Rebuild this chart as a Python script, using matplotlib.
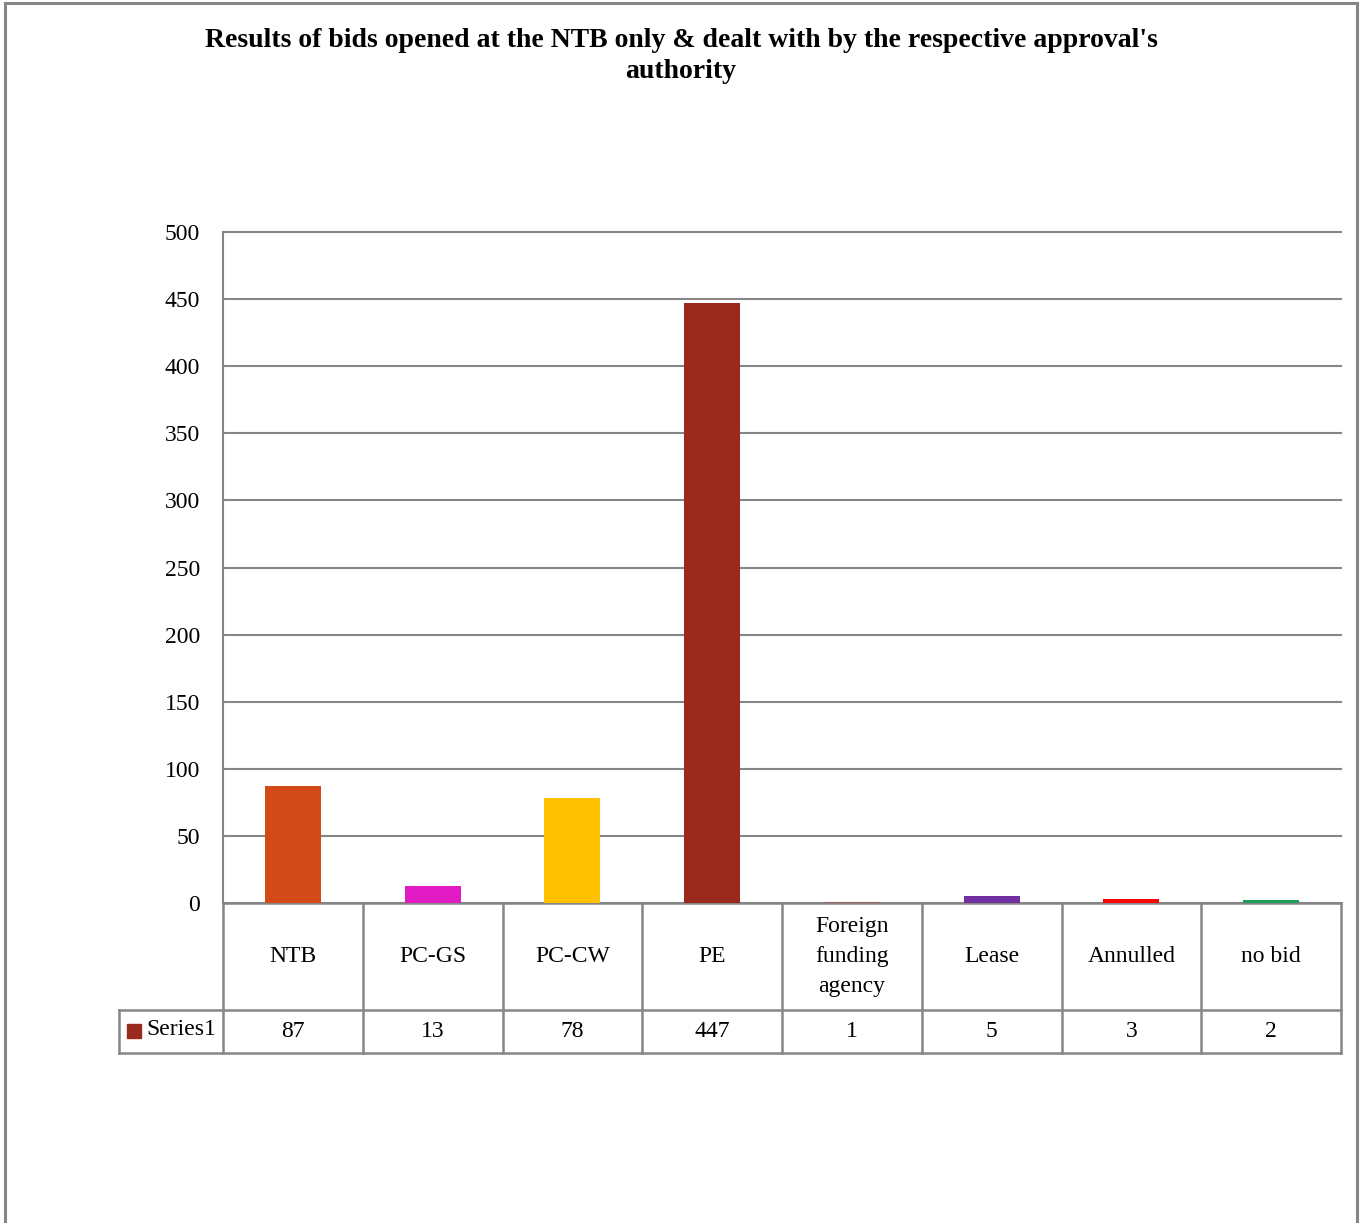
import matplotlib
matplotlib.use("Agg")
import matplotlib.pyplot as plt
from matplotlib.transforms import blended_transform_factory
from matplotlib.patches import Rectangle
from matplotlib.lines import Line2D

categories = ["NTB", "PC-GS", "PC-CW", "PE", "Foreign\nfunding\nagency", "Lease", "Annulled", "no bid"]
values = [87, 13, 78, 447, 1, 5, 3, 2]
colors = ["#D24A18", "#E11BC3", "#FFC000", "#9A2A1E", "#A0605A", "#7030A0", "#FF0000", "#1F9C5A"]
series_name = "Series1"
yticks = [0, 50, 100, 150, 200, 250, 300, 350, 400, 450, 500]
title = "Results of bids opened at the NTB only & dealt with by the respective approval's\nauthority"

plt.rcParams['font.family'] = ['Liberation Serif', 'DejaVu Serif']
W, H = 1364, 1223
fig = plt.figure(figsize=(W/100, H/100), dpi=100)

grid_c = "#868686"
# outer border
fig.add_artist(Line2D([5/W, 5/W], [0, 1-3/H], color=grid_c, lw=2.2, transform=fig.transFigure))
fig.add_artist(Line2D([5/W, 1357/W], [1-3/H, 1-3/H], color=grid_c, lw=2.2, transform=fig.transFigure))
fig.add_artist(Line2D([1357/W, 1357/W], [0, 1-3/H], color=grid_c, lw=2.2, transform=fig.transFigure))

x0, x1 = 223, 1341
ytop, ybot = 232, 903
ax = fig.add_axes([x0/W, 1-ybot/H, (x1-x0)/W, (ybot-ytop)/H])
n = len(categories)
ax.bar(range(n), values, width=0.4, color=colors, zorder=3)
ax.set_xlim(-0.5, n-0.5)
ax.set_ylim(0, 500)
ax.set_yticks(yticks)
ax.set_yticklabels([str(t) for t in yticks], fontsize=17)
ax.tick_params(axis='y', length=0, pad=16.5)
ax.tick_params(axis='x', length=0, labelbottom=False)
ax.grid(axis='y', color=grid_c, lw=1.5, zorder=0)
for gl in ax.get_ygridlines():
    gl.set_clip_on(False)
for s in ['top', 'right', 'bottom']:
    ax.spines[s].set_visible(False)
ax.spines['left'].set_color(grid_c)
ax.spines['left'].set_linewidth(1.5)

fig.text(681/W, 1-28/H, title, ha='center', va='top', fontsize=20, fontweight='bold',
         linespacing=1.32, transform=fig.transFigure)

# data table
tr = blended_transform_factory(ax.transData, ax.transAxes)
axh = ybot - ytop
r1 = -(1010-903)/axh
r2 = -(1053-903)/axh
left_edge = -0.5 - (x0-119)/((x1-x0)/n)
lk = dict(color=grid_c, lw=1.8, transform=tr, clip_on=False)
ax.add_line(Line2D([-0.5, n-0.5], [0, 0], **lk))
ax.add_line(Line2D([left_edge, n-0.5], [r1, r1], **lk))
ax.add_line(Line2D([left_edge, n-0.5], [r2, r2], **lk))
ax.add_line(Line2D([left_edge, left_edge], [r1, r2], **lk))
for i in range(n+1):
    ax.add_line(Line2D([i-0.5, i-0.5], [0, r2], **lk))
for i, (c, v) in enumerate(zip(categories, values)):
    ax.text(i, r1/2, c, ha='center', va='center', fontsize=17, linespacing=1.55,
            transform=tr, clip_on=False)
    ax.text(i, (r1+r2)/2, str(v), ha='center', va='center', fontsize=17,
            transform=tr, clip_on=False)
# legend key
kx = left_edge + 0.06
ax.add_patch(Rectangle((kx, (r1+r2)/2 - 0.0095), 0.1, 0.02, color="#9A2A1E",
                       transform=tr, clip_on=False))
ax.text(kx + 0.135, (r1+r2)/2 + 0.003, series_name, ha='left', va='center', fontsize=17,
        transform=tr, clip_on=False)

fig.savefig("out.png", dpi=100)
